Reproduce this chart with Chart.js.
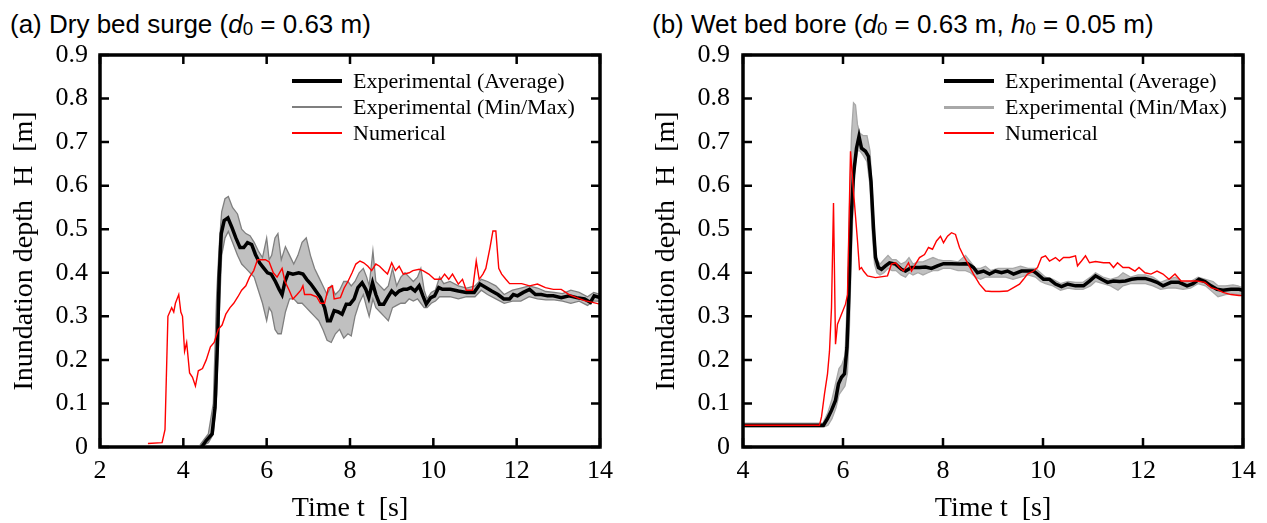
<!DOCTYPE html>
<html>
<head>
<meta charset="utf-8">
<script src="https://cdn.jsdelivr.net/npm/chart.js@4.4.1/dist/chart.umd.min.js"></script>
<style>
  body { margin: 0; background: #fff; }
  #wrap { position: relative; width: 1267px; height: 523px; overflow: hidden; }
  canvas { position: absolute; top: 0; }
  .title { position: absolute; top: 11px; font: 26px/26px "Liberation Sans", Arial, sans-serif; color: #000; white-space: nowrap; }
  .title sub { font-size: 0.72em; vertical-align: -0.12em; line-height: 0; }
  .legend { position: absolute; top: 68px; font: 22px/26px "Liberation Serif", "Times New Roman", serif; color: #000; }
  .legend .row { display: flex; align-items: center; height: 26px; white-space: nowrap; }
  .legend .swatch { width: 50px; margin-right: 11px; }
</style>
</head>
<body>
<div id="wrap">
  <div class="title" style="left:10px">(a) Dry bed surge (<i>d</i><sub>0</sub> = 0.63 m)</div>
  <div class="title" style="left:652px">(b) Wet bed bore (<i>d</i><sub>0</sub> = 0.63 m, <i>h</i><sub>0</sub> = 0.05 m)</div>
  <canvas id="chartA" width="633" height="523" style="left:0"></canvas>
  <canvas id="chartB" width="634" height="523" style="left:633px"></canvas>
  <div class="legend" id="legendA" style="left:292px"></div>
  <div class="legend" id="legendB" style="left:944px"></div>
</div>
<script>
// ---- (a) dry bed surge ----
const tNumA = [3.15, 3.49, 3.56, 3.63, 3.72, 3.77, 3.81, 3.89, 3.94, 3.98, 4.03, 4.08, 4.15, 4.22, 4.29, 4.36, 4.46, 4.55, 4.65, 4.74,
  4.84, 4.93, 5.02, 5.12, 5.21, 5.31, 5.40, 5.50, 5.59, 5.69, 5.78, 5.88, 5.97, 6.06, 6.16, 6.25, 6.37, 6.44, 6.54, 6.63,
  6.73, 6.82, 6.87, 6.91, 7.06, 7.20, 7.29, 7.39, 7.48, 7.58, 7.62, 7.77, 7.86, 7.95, 8.05, 8.14, 8.24, 8.33, 8.43, 8.52,
  8.62, 8.71, 8.81, 8.90, 9.00, 9.09, 9.18, 9.28, 9.42, 9.51, 9.66, 9.75, 9.89, 10.03, 10.18, 10.27, 10.37, 10.46, 10.60, 10.70,
  10.79, 10.94, 11.03, 11.10, 11.19, 11.26, 11.36, 11.43, 11.50, 11.57, 11.64, 11.74, 11.83, 12.12, 12.31, 12.50, 12.69, 12.88, 13.07, 13.26,
  13.44, 13.63, 13.82, 14.0];
const hNumA = [0.008, 0.01, 0.04, 0.30, 0.32, 0.31, 0.33, 0.35, 0.31, 0.30, 0.22, 0.24, 0.17, 0.16, 0.14, 0.175, 0.18, 0.20, 0.23, 0.24,
  0.27, 0.28, 0.305, 0.32, 0.33, 0.345, 0.36, 0.37, 0.39, 0.405, 0.43, 0.43, 0.43, 0.425, 0.40, 0.39, 0.41, 0.38, 0.36, 0.34,
  0.35, 0.36, 0.37, 0.35, 0.35, 0.345, 0.33, 0.33, 0.365, 0.37, 0.34, 0.343, 0.365, 0.38, 0.40, 0.42, 0.427, 0.423, 0.415, 0.405,
  0.42, 0.415, 0.405, 0.397, 0.423, 0.405, 0.415, 0.397, 0.40, 0.405, 0.408, 0.405, 0.397, 0.385, 0.385, 0.397, 0.385, 0.397, 0.374, 0.385,
  0.36, 0.36, 0.427, 0.385, 0.397, 0.41, 0.458, 0.496, 0.496, 0.41, 0.397, 0.385, 0.375, 0.375, 0.37, 0.374, 0.366, 0.362, 0.362, 0.35,
  0.343, 0.336, 0.332, 0.328];

const tAvgA = [4.44, 4.55, 4.69, 4.76, 4.82, 4.86, 4.91, 4.98, 5.07, 5.17, 5.26, 5.36, 5.45, 5.54, 5.64, 5.73, 5.83, 5.92, 6.02, 6.11,
  6.21, 6.30, 6.37, 6.44, 6.52, 6.63, 6.77, 6.87, 6.96, 7.06, 7.15, 7.29, 7.39, 7.46, 7.53, 7.62, 7.72, 7.81, 7.91, 8.00,
  8.10, 8.19, 8.29, 8.38, 8.45, 8.54, 8.62, 8.71, 8.81, 8.90, 9.00, 9.09, 9.18, 9.28, 9.37, 9.46, 9.56, 9.66, 9.75, 9.83,
  9.94, 10.03, 10.13, 10.22, 10.41, 10.60, 10.79, 10.98, 11.12, 11.26, 11.40, 11.55, 11.69, 11.83, 11.92, 12.02, 12.16, 12.31, 12.45, 12.59,
  12.74, 12.88, 13.07, 13.26, 13.44, 13.63, 13.77, 13.86, 14.0];
const hAvgA = [0, 0.015, 0.03, 0.09, 0.24, 0.39, 0.49, 0.52, 0.526, 0.503, 0.48, 0.458, 0.458, 0.469, 0.465, 0.442, 0.423, 0.412, 0.40, 0.397,
  0.38, 0.362, 0.35, 0.38, 0.40, 0.397, 0.40, 0.397, 0.385, 0.374, 0.362, 0.343, 0.32, 0.29, 0.29, 0.313, 0.31, 0.305, 0.328, 0.328,
  0.34, 0.366, 0.377, 0.362, 0.343, 0.377, 0.35, 0.328, 0.328, 0.343, 0.358, 0.35, 0.358, 0.362, 0.362, 0.366, 0.358, 0.37, 0.347, 0.328,
  0.343, 0.347, 0.366, 0.362, 0.362, 0.358, 0.355, 0.355, 0.374, 0.366, 0.358, 0.35, 0.34, 0.34, 0.35, 0.347, 0.355, 0.362, 0.35, 0.35,
  0.347, 0.347, 0.343, 0.347, 0.343, 0.34, 0.332, 0.347, 0.343];

const tBandA = [4.40, 4.60, 4.72, 4.80, 4.86, 4.92, 5.00, 5.08, 5.18, 5.30, 5.40, 5.50, 5.60, 5.70, 5.80, 5.90, 6.00, 6.06, 6.12, 6.20,
  6.27, 6.35, 6.45, 6.55, 6.65, 6.75, 6.85, 6.95, 7.05, 7.15, 7.25, 7.35, 7.45, 7.55, 7.65, 7.75, 7.85, 7.95, 8.03, 8.12,
  8.22, 8.32, 8.40, 8.46, 8.55, 8.62, 8.72, 8.82, 8.92, 9.02, 9.12, 9.22, 9.32, 9.42, 9.52, 9.62, 9.70, 9.78, 9.85, 9.95,
  10.05, 10.15, 10.25, 10.40, 10.60, 10.80, 11.00, 11.15, 11.30, 11.50, 11.70, 11.90, 12.10, 12.30, 12.50, 12.70, 12.90, 13.10, 13.30, 13.50,
  13.70, 13.85, 14.00];
const hMinA = [0, 0.01, 0.03, 0.12, 0.30, 0.44, 0.48, 0.495, 0.47, 0.44, 0.42, 0.41, 0.40, 0.39, 0.36, 0.33, 0.29, 0.32, 0.31, 0.27,
  0.26, 0.26, 0.31, 0.34, 0.34, 0.33, 0.33, 0.32, 0.31, 0.30, 0.29, 0.27, 0.245, 0.24, 0.26, 0.27, 0.25, 0.26, 0.255, 0.30,
  0.33, 0.35, 0.32, 0.30, 0.34, 0.32, 0.31, 0.30, 0.29, 0.32, 0.325, 0.33, 0.33, 0.34, 0.335, 0.34, 0.33, 0.32, 0.32, 0.33,
  0.335, 0.345, 0.345, 0.345, 0.34, 0.345, 0.345, 0.36, 0.35, 0.34, 0.33, 0.335, 0.335, 0.345, 0.34, 0.338, 0.338, 0.335, 0.33, 0.335,
  0.325, 0.335, 0.335];
const hMaxA = [0.005, 0.03, 0.10, 0.35, 0.46, 0.54, 0.57, 0.575, 0.55, 0.535, 0.50, 0.49, 0.485, 0.47, 0.45, 0.435, 0.48, 0.43, 0.44, 0.48,
  0.49, 0.43, 0.46, 0.44, 0.42, 0.44, 0.47, 0.48, 0.44, 0.41, 0.39, 0.37, 0.35, 0.37, 0.35, 0.36, 0.38, 0.38, 0.37, 0.38,
  0.40, 0.41, 0.39, 0.37, 0.45, 0.38, 0.37, 0.36, 0.37, 0.41, 0.37, 0.39, 0.40, 0.39, 0.38, 0.39, 0.41, 0.36, 0.34, 0.355,
  0.36, 0.39, 0.375, 0.38, 0.37, 0.365, 0.37, 0.385, 0.38, 0.37, 0.35, 0.36, 0.365, 0.37, 0.365, 0.357, 0.355, 0.352, 0.36, 0.355,
  0.345, 0.355, 0.35];

// ---- (b) wet bed bore ----
const tNumB = [4.0, 5.53, 5.57, 5.63, 5.69, 5.73, 5.77, 5.81, 5.85, 5.89, 5.97, 6.05, 6.09, 6.15, 6.21, 6.29, 6.33, 6.37, 6.41, 6.49,
  6.65, 6.89, 6.97, 7.05, 7.13, 7.21, 7.31, 7.37, 7.45, 7.53, 7.63, 7.71, 7.79, 7.87, 7.95, 8.01, 8.09, 8.17, 8.25, 8.33,
  8.41, 8.49, 8.61, 8.73, 8.85, 8.97, 9.13, 9.29, 9.41, 9.53, 9.61, 9.69, 9.81, 9.89, 9.97, 10.05, 10.13, 10.25, 10.33, 10.41,
  10.53, 10.65, 10.69, 10.77, 10.85, 10.93, 11.05, 11.21, 11.33, 11.41, 11.49, 11.60, 11.72, 11.84, 11.92, 12.04, 12.16, 12.28, 12.40, 12.52,
  12.64, 12.76, 12.92, 13.08, 13.24, 13.36, 13.48, 13.60, 13.76, 13.92, 14.0];
const hNumB = [0.05, 0.05, 0.069, 0.122, 0.168, 0.22, 0.32, 0.56, 0.236, 0.282, 0.305, 0.328, 0.35, 0.679, 0.587, 0.473, 0.408, 0.412, 0.404, 0.393,
  0.389, 0.393, 0.42, 0.423, 0.412, 0.404, 0.423, 0.404, 0.42, 0.435, 0.442, 0.458, 0.454, 0.473, 0.484, 0.469, 0.484, 0.492, 0.488, 0.458,
  0.439, 0.423, 0.397, 0.374, 0.358, 0.357, 0.357, 0.358, 0.366, 0.374, 0.385, 0.397, 0.404, 0.412, 0.435, 0.439, 0.427, 0.435, 0.427, 0.435,
  0.435, 0.439, 0.416, 0.427, 0.439, 0.423, 0.426, 0.423, 0.423, 0.412, 0.423, 0.412, 0.412, 0.404, 0.412, 0.40, 0.397, 0.404, 0.397, 0.385,
  0.397, 0.381, 0.381, 0.381, 0.378, 0.366, 0.362, 0.355, 0.35, 0.348, 0.348];

const tAvgB = [4.0, 5.61, 5.69, 5.77, 5.85, 5.91, 5.97, 6.03, 6.08, 6.12, 6.16, 6.21, 6.27, 6.32, 6.37, 6.45, 6.51, 6.56, 6.61, 6.65,
  6.71, 6.77, 6.85, 6.93, 7.05, 7.17, 7.25, 7.37, 7.53, 7.65, 7.77, 7.89, 8.01, 8.17, 8.33, 8.49, 8.61, 8.69, 8.81, 8.93,
  9.05, 9.17, 9.29, 9.41, 9.57, 9.69, 9.81, 9.89, 10.01, 10.13, 10.25, 10.37, 10.49, 10.65, 10.81, 10.93, 11.05, 11.17, 11.29, 11.41,
  11.53, 11.65, 11.77, 11.89, 12.04, 12.16, 12.28, 12.40, 12.56, 12.72, 12.88, 13.00, 13.12, 13.24, 13.36, 13.48, 13.60, 13.76, 13.92, 14.0];
const hAvgB = [0.05, 0.05, 0.065, 0.084, 0.107, 0.145, 0.16, 0.168, 0.229, 0.358, 0.519, 0.625, 0.686, 0.713, 0.686, 0.679, 0.667, 0.61, 0.503, 0.435,
  0.412, 0.408, 0.416, 0.423, 0.42, 0.408, 0.404, 0.412, 0.412, 0.413, 0.41, 0.416, 0.421, 0.421, 0.42, 0.421, 0.412, 0.40, 0.404, 0.397,
  0.404, 0.40, 0.404, 0.397, 0.404, 0.404, 0.404, 0.397, 0.385, 0.385, 0.374, 0.368, 0.374, 0.37, 0.37, 0.381, 0.393, 0.385, 0.378, 0.381,
  0.38, 0.381, 0.385, 0.387, 0.387, 0.383, 0.378, 0.37, 0.378, 0.378, 0.37, 0.375, 0.385, 0.38, 0.37, 0.362, 0.36, 0.362, 0.362, 0.36];

const tBandB = [4.0, 5.60, 5.70, 5.78, 5.86, 5.92, 5.98, 6.04, 6.09, 6.13, 6.17, 6.21, 6.25, 6.29, 6.34, 6.40, 6.48, 6.54, 6.58, 6.63,
  6.68, 6.74, 6.82, 6.90, 6.98, 7.06, 7.16, 7.25, 7.32, 7.40, 7.50, 7.60, 7.70, 7.80, 7.90, 8.00, 8.15, 8.30, 8.45, 8.55,
  8.65, 8.75, 8.85, 8.95, 9.10, 9.25, 9.40, 9.55, 9.70, 9.85, 9.95, 10.05, 10.20, 10.35, 10.50, 10.65, 10.80, 10.95, 11.05, 11.20,
  11.35, 11.50, 11.60, 11.75, 11.90, 12.05, 12.20, 12.35, 12.50, 12.65, 12.80, 12.95, 13.10, 13.25, 13.40, 13.50, 13.65, 13.80, 13.90, 14.00];
const hMinB = [0.045, 0.045, 0.05, 0.065, 0.09, 0.12, 0.13, 0.14, 0.17, 0.28, 0.45, 0.58, 0.65, 0.68, 0.68, 0.67, 0.655, 0.60, 0.50, 0.42,
  0.40, 0.395, 0.40, 0.41, 0.405, 0.405, 0.395, 0.39, 0.40, 0.395, 0.40, 0.395, 0.40, 0.405, 0.405, 0.41, 0.41, 0.405, 0.405, 0.40,
  0.39, 0.385, 0.39, 0.39, 0.39, 0.39, 0.385, 0.39, 0.395, 0.39, 0.38, 0.375, 0.37, 0.36, 0.365, 0.362, 0.362, 0.37, 0.38, 0.375,
  0.37, 0.36, 0.37, 0.375, 0.375, 0.375, 0.37, 0.362, 0.365, 0.365, 0.362, 0.365, 0.375, 0.37, 0.355, 0.345, 0.35, 0.352, 0.35, 0.352];
const hMaxB = [0.055, 0.055, 0.08, 0.11, 0.15, 0.18, 0.19, 0.21, 0.35, 0.55, 0.72, 0.79, 0.785, 0.74, 0.72, 0.715, 0.715, 0.68, 0.60, 0.48,
  0.43, 0.42, 0.43, 0.44, 0.43, 0.43, 0.42, 0.425, 0.435, 0.42, 0.425, 0.425, 0.43, 0.435, 0.43, 0.428, 0.428, 0.425, 0.44, 0.425,
  0.41, 0.41, 0.415, 0.405, 0.41, 0.41, 0.41, 0.415, 0.41, 0.41, 0.40, 0.39, 0.385, 0.375, 0.38, 0.378, 0.378, 0.39, 0.40, 0.39,
  0.385, 0.39, 0.40, 0.39, 0.395, 0.395, 0.39, 0.378, 0.385, 0.39, 0.378, 0.38, 0.39, 0.385, 0.38, 0.37, 0.37, 0.372, 0.37, 0.365];

const yTickFont = { family: 'Liberation Serif', size: 26 };
const axisTitleFont = { family: 'Liberation Serif', size: 28, lineHeight: 1.05 };

const pts = (ts, hs) => ts.map((t, i) => ({ x: t, y: hs[i] }));

// inward ticks on all four sides + heavy frame
const framePlugin = {
  id: 'frame',
  afterDraw(chart) {
    const { ctx, chartArea: a, scales } = chart;
    ctx.save();
    ctx.strokeStyle = '#000';
    ctx.lineWidth = 2.5;
    ctx.beginPath();
    scales.x.ticks.forEach(tk => {
      const px = scales.x.getPixelForValue(tk.value);
      ctx.moveTo(px, a.bottom); ctx.lineTo(px, a.bottom - 9);
      ctx.moveTo(px, a.top); ctx.lineTo(px, a.top + 9);
    });
    scales.y.ticks.forEach(tk => {
      const py = scales.y.getPixelForValue(tk.value);
      ctx.moveTo(a.left, py); ctx.lineTo(a.left + 9, py);
      ctx.moveTo(a.right, py); ctx.lineTo(a.right - 9, py);
    });
    ctx.stroke();
    ctx.lineWidth = 3.5;
    ctx.strokeRect(a.left, a.top, a.width, a.height);
    ctx.restore();
  }
};

const makeChart = (id, legendId, d) => {
  const chart = new Chart(document.getElementById(id), {
    type: 'line',
    data: {
      datasets: [
        { label: 'Numerical', data: pts(d.tNum, d.hNum), borderColor: '#ff0000', borderWidth: 1.4, fill: false },
        { label: 'Experimental (Average)', data: pts(d.tAvg, d.hAvg), borderColor: '#000000', borderWidth: 3.5, fill: false },
        { label: 'Experimental (Min/Max)', data: pts(d.tBand, d.hMax), borderColor: d.edge, borderWidth: 1.3,
          backgroundColor: '#c0c0c0', fill: '+1', legendWidth: d.legendWidth },
        { label: '', data: pts(d.tBand, d.hMin), borderColor: d.edge, borderWidth: 1.3, fill: false }
      ]
    },
    options: {
      responsive: false,
      animation: false,
      layout: { padding: { top: 55, right: d.padRight, bottom: 0, left: 0 } },
      elements: { point: { radius: 0 }, line: { tension: 0 } },
      plugins: {
        legend: { display: false },
        tooltip: { enabled: false },
        filler: { drawTime: 'beforeDatasetsDraw' }
      },
      scales: {
        x: {
          type: 'linear', min: d.xMin, max: 14,
          ticks: { stepSize: 2, padding: 9, color: '#000', font: yTickFont },
          grid: { display: false, drawTicks: false },
          border: { display: false },
          title: { display: true, text: 'Time t  [s]', color: '#000', font: axisTitleFont, padding: 0 },
          afterFit: s => { s.height = 76; }
        },
        y: {
          min: 0, max: 0.9,
          ticks: { stepSize: 0.1, padding: d.yPad, color: '#000', font: yTickFont },
          grid: { display: false, drawTicks: false },
          border: { display: false },
          title: { display: true, text: 'Inundation depth  H  [m]', color: '#000', font: axisTitleFont,
                   padding: { top: d.yTitlePad, bottom: 0 } },
          afterFit: s => { s.width = d.yWidth; }
        }
      }
    },
    plugins: [framePlugin]
  });

  // legend inside the plot, upper right
  const order = [1, 2, 0];
  const box = document.getElementById(legendId);
  order.forEach(i => {
    const ds = chart.data.datasets[i];
    const row = document.createElement('div');
    row.className = 'row';
    const sw = document.createElement('div');
    sw.className = 'swatch';
    sw.style.height = (ds.legendWidth || ds.borderWidth) + 'px';
    sw.style.background = ds.borderColor;
    const txt = document.createElement('span');
    txt.textContent = ds.label;
    row.appendChild(sw);
    row.appendChild(txt);
    box.appendChild(row);
  });
  return chart;
};

makeChart('chartA', 'legendA', {
  tNum: tNumA, hNum: hNumA, tAvg: tAvgA, hAvg: hAvgA, tBand: tBandA, hMin: hMinA, hMax: hMaxA,
  xMin: 2, padRight: 33, yWidth: 100, yPad: 12, yTitlePad: 10, edge: '#7f7f7f', legendWidth: 1.6
});
makeChart('chartB', 'legendB', {
  tNum: tNumB, hNum: hNumB, tAvg: tAvgB, hAvg: hAvgB, tBand: tBandB, hMin: hMinB, hMax: hMaxB,
  xMin: 4, padRight: 24, yWidth: 110, yPad: 13, yTitlePad: 19, edge: '#a8a8a8', legendWidth: 3
});
</script>
</body>
</html>
